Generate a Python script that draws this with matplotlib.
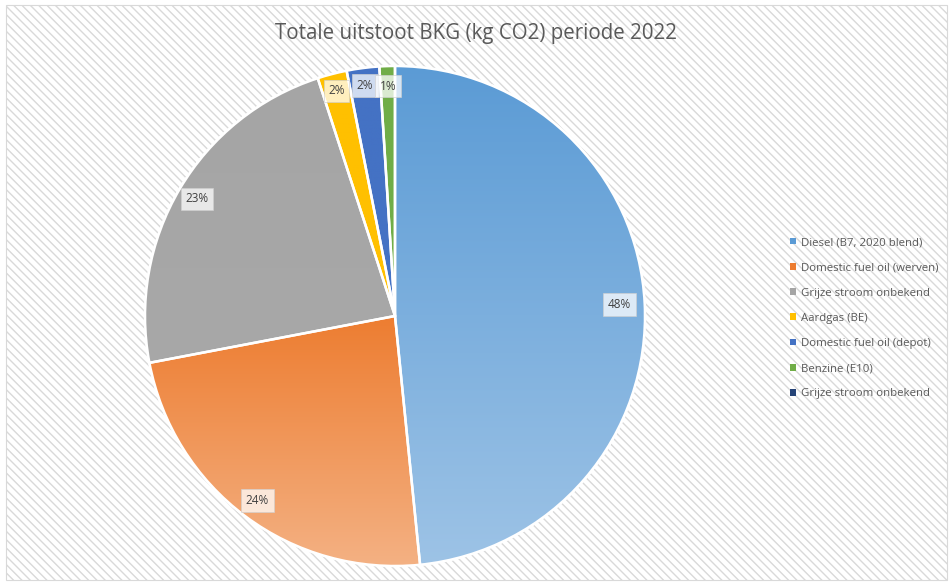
import numpy as np
import matplotlib
matplotlib.use("Agg")
import matplotlib.pyplot as plt
from matplotlib.colors import LinearSegmentedColormap
from matplotlib.patches import Rectangle, Wedge, Patch

# data
labels = ["Diesel (B7, 2020 blend)", "Domestic fuel oil (werven)", "Grijze stroom onbekend",
          "Aardgas (BE)", "Domestic fuel oil (depot)", "Benzine (E10)", "Grijze stroom onbekend"]
values = [48.4, 23.6, 23.0, 1.9, 2.1, 1.0, 0.0]
pct_labels = ["48%", "24%", "23%", "2%", "2%", "1%", ""]
top_colors = ["#5b9bd5", "#ed7d31", "#a5a5a5", "#ffc000", "#4472c4", "#70ad47", "#264478"]
bottom_colors = ["#9dc3e6", "#f4b183", "#a8a8a8", "#ffc000", "#4472c4", "#70ad47", "#264478"]

plt.rcParams['font.family'] = ['Open Sans', 'DejaVu Sans']

fig = plt.figure(figsize=(9.53, 5.85), dpi=100)
fig.patch.set_facecolor("white")

# hatched background
plt.rcParams['hatch.color'] = '#e4e4e4'
plt.rcParams['hatch.linewidth'] = 1.0
bg = Rectangle((0.006, 0.008), 0.988, 0.983, transform=fig.transFigure, facecolor="white",
               edgecolor="#d9d9d9", hatch="\\\\\\\\", linewidth=0.8, zorder=-5)
fig.patches.append(bg)

fig.text(0.5, 0.942, "Totale uitstoot BKG (kg CO2) periode 2022", ha="center", va="center",
         fontsize=14.8, color="#595959")

ax = fig.add_axes([145 / 953, 19 / 585, 500 / 953, 500 / 585], zorder=1)
ax.set_xlim(-1, 1)
ax.set_ylim(-1, 1)
ax.axis("off")

wedges, _ = ax.pie(values, startangle=90, counterclock=False, radius=1.0,
                   colors=top_colors, wedgeprops=dict(edgecolor="white", linewidth=1.8))

# gradient fill per slice
for w, c1, c2 in zip(wedges, top_colors, bottom_colors):
    if w.theta2 - w.theta1 <= 0:
        continue
    th = np.radians(np.linspace(w.theta1, w.theta2, 100))
    xs = np.concatenate([[0], np.cos(th)])
    ys = np.concatenate([[0], np.sin(th)])
    cmap = LinearSegmentedColormap.from_list("g", [c1, c2])
    grad = np.linspace(0, 1, 256).reshape(-1, 1)
    im = ax.imshow(grad, cmap=cmap, aspect="auto", origin="upper",
                   extent=[xs.min(), xs.max(), ys.min(), ys.max()], zorder=1.5)
    im.set_clip_path(w)
    w.set_zorder(1)
    # white border on top
    ax.add_patch(Wedge((0, 0), 1.0, w.theta1, w.theta2, facecolor="none",
                       edgecolor="white", linewidth=1.8, zorder=2))
ax.set_xlim(-1, 1)
ax.set_ylim(-1, 1)

# percentage labels
radii = [0.90, 0.92, 0.92, 0.93, 0.93, 0.92, 0.9]
for w, txt, r in zip(wedges, pct_labels, radii):
    if not txt:
        continue
    ang = np.radians((w.theta1 + w.theta2) / 2)
    ax.text(r * np.cos(ang), r * np.sin(ang), txt, ha="center", va="center",
            fontsize=8.5, color="#404040", zorder=3,
            bbox=dict(boxstyle="square,pad=0.4", fc="white", ec="#d0d0d0",
                      alpha=0.75, lw=0.6))

# legend
handles = [Patch(facecolor=c) for c in top_colors]
leg = fig.legend(handles, labels, loc="center left", bbox_to_anchor=(0.818, 0.456),
                 frameon=False, fontsize=8.2, labelcolor="#595959",
                 handlelength=0.55, handleheight=0.55, handletextpad=0.4,
                 labelspacing=1.25)

fig.savefig("out.png", dpi=100)
